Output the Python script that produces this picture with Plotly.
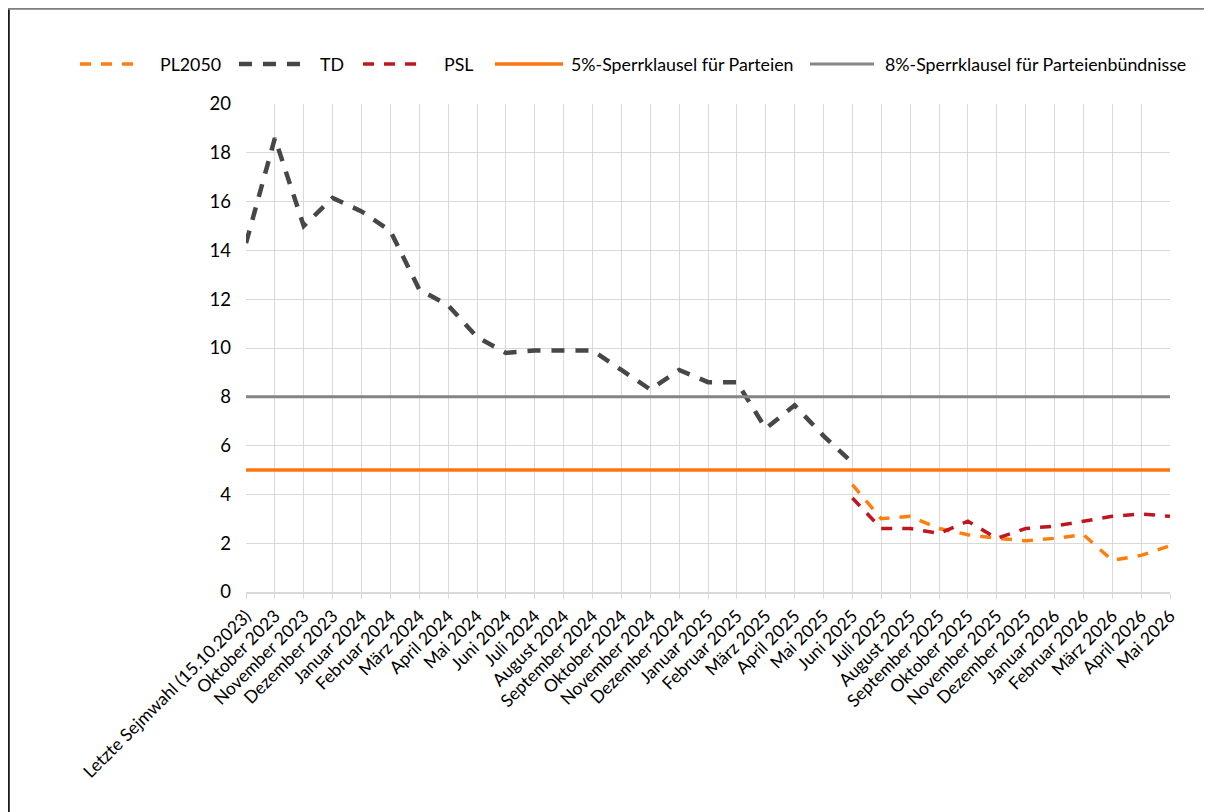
import plotly.graph_objects as go

categories = [
    "Letzte Sejmwahl (15.10.2023)", "Oktober 2023", "November 2023", "Dezember 2023",
    "Januar 2024", "Februar 2024", "März 2024", "April 2024", "Mai 2024", "Juni 2024",
    "Juli 2024", "August 2024", "September 2024", "Oktober 2024", "November 2024",
    "Dezember 2024", "Januar 2025", "Februar 2025", "März 2025", "April 2025", "Mai 2025",
    "Juni 2025", "Juli 2025", "August 2025", "September 2025", "Oktober 2025",
    "November 2025", "Dezember 2025", "Januar 2026", "Februar 2026", "März 2026",
    "April 2026", "Mai 2026",
]

td = [14.3, 18.6, 15.0, 16.15, 15.6, 14.8, 12.4, 11.75, 10.45, 9.8, 9.9, 9.9, 9.9,
      9.1, 8.3, 9.1, 8.6, 8.6, 6.7, 7.65, 6.4, 5.3] + [None] * 11

pl2050 = [None] * 21 + [4.4, 3.0, 3.1, 2.6, 2.35, 2.2, 2.1, 2.2, 2.35, 1.3, 1.5, 1.9]

psl = [None] * 21 + [3.85, 2.6, 2.6, 2.4, 2.9, 2.2, 2.6, 2.7, 2.9, 3.1, 3.2, 3.1]

sperr5 = [5] * len(categories)
sperr8 = [8] * len(categories)

y_ticks = [0, 2, 4, 6, 8, 10, 12, 14, 16, 18, 20]

FONT = "Lato"

series = [
    ("PL2050", pl2050, "#FF7F0E", 3.5, "11px,10px"),
    ("TD", td, "#474747", 4.5, "13px,11px"),
    ("PSL", psl, "#C0161F", 3.5, "11px,10px"),
    ("5%-Sperrklausel für Parteien", sperr5, "#FF7410", 3.3, "solid"),
    ("8%-Sperrklausel für Parteienbündnisse", sperr8, "#858585", 3, "solid"),
]

fig = go.Figure()
for name, vals, color, w, dash in series:
    fig.add_trace(go.Scatter(x=categories, y=vals, name=name, mode="lines",
                             line=dict(color=color, width=w, dash=dash),
                             showlegend=False))

# page offset of 8px (body margin); plot area spans px 246..1170 x 104..592
PX0, PX1, PY0, PY1 = 246, 1170, 104, 592


def px(x):
    return (x - PX0) / (PX1 - PX0)


def py(y):
    return (PY1 - y) / (PY1 - PY0)


# manual legend (symbol start, symbol end, text start)
legend_pos = [(80, 139, 158), (239, 306, 318), (363, 423, 442), (495, 563, 569), (810, 874, 883)]
LEG_Y = 64
shapes = []
annotations = []
for (name, vals, color, w, dash), (s0, s1, t0) in zip(series, legend_pos):
    shapes.append(dict(type="line", xref="paper", yref="paper",
                       x0=px(s0), x1=px(s1), y0=py(LEG_Y), y1=py(LEG_Y),
                       line=dict(color=color, width=w, dash=dash)))
    annotations.append(dict(text=name, xref="paper", yref="paper", x=px(t0), y=py(LEG_Y),
                            xanchor="left", yanchor="middle", showarrow=False,
                            font=dict(family=FONT, size=17.8, color="#000000")))

# outer frame pieces
shapes.append(dict(type="line", xref="paper", yref="paper",
                   x0=px(8.8), x1=px(8.8), y0=py(8), y1=py(812),
                   line=dict(color="#1a1a1a", width=2)))
shapes.append(dict(type="line", xref="paper", yref="paper",
                   x0=px(8), x1=px(1212), y0=py(8.8), y1=py(8.8),
                   line=dict(color="#7f7f7f", width=2)))

fig.update_layout(
    width=1204, height=804,
    margin=dict(l=238, r=42, t=96, b=220),
    paper_bgcolor="white", plot_bgcolor="white",
    font=dict(family=FONT, size=17.5, color="#000000"),
    showlegend=False,
    xaxis=dict(type="category", range=[0, len(categories) - 1],
               showgrid=True, gridcolor="#D9D9D9", gridwidth=1,
               showline=True, linecolor="#D9D9D9", linewidth=2,
               ticks="outside", ticklen=5, tickcolor="#D9D9D9",
               tickangle=-45, tickfont=dict(size=17.5, family=FONT),
               zeroline=False),
    yaxis=dict(range=[0, 20], tickvals=y_ticks, ticktext=[str(v) for v in y_ticks],
               showgrid=True, gridcolor="#D9D9D9", gridwidth=1,
               showline=False, zeroline=False, ticks="", ticklabelstandoff=14,
               tickfont=dict(size=18.5, family=FONT)),
    shapes=shapes,
    annotations=annotations,
)

fig.write_html("out.html")
